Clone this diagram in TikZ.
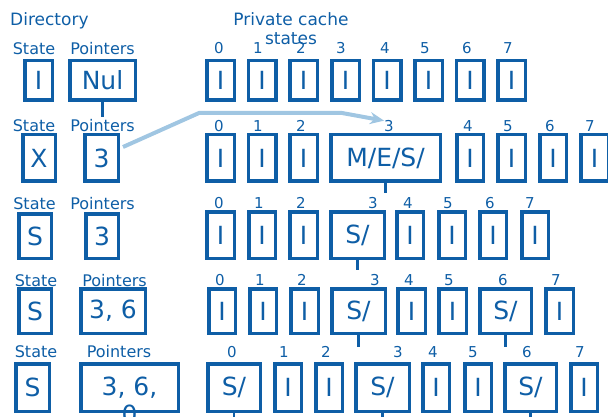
\documentclass[tikz,border=0pt]{standalone}
\usepackage{fontspec}
\setmainfont{DejaVu Sans}
\usetikzlibrary{arrows.meta}
\definecolor{dirblue}{RGB}{14,94,166}
\definecolor{ptrblue}{RGB}{160,198,226}

\tikzset{
  cell/.style={draw=dirblue, line width=3.5pt, inner sep=0pt, text=dirblue, font=\fontsize{25}{29}\selectfont},
  cellsize/.style 2 args={minimum width={#1pt-3.5pt}, minimum height={#2pt-3.5pt}},
  tag/.style={text=dirblue, inner sep=0pt, anchor=base, font=\fontsize{16}{19}\selectfont},
  idx/.style={text=dirblue, inner sep=0pt, anchor=base, font=\fontsize{15}{18}\selectfont},
  stub/.style={draw=dirblue, line width=2.6pt},
  ptr/.style={draw=ptrblue, line width=4pt, -{Stealth[length=14pt,width=12pt]}}
}

\begin{document}
\begin{tikzpicture}[x=1pt, y=-1pt]
  \useasboundingbox (0,0) rectangle (608,417);
  \clip (0,0) rectangle (608,417);

  % headings
  \node[tag, anchor=base west, font=\fontsize{17}{20}\selectfont] (dirhead) at (10,26) {Directory};
  \node[tag, font=\fontsize{17}{20}\selectfont] (cachehead) at (291,26) {Private cache};
  \node[tag, font=\fontsize{17}{20}\selectfont] (cachehead2) at (291,45) {states};

  % row 1: nobody holds the line
  \node[tag] (st1) at (34,55) {State};
  \node[tag] (pt1) at (102.5,55) {Pointers};
  \node[cell, cellsize={31}{43}] (d1s) at (38.5,80.5) {I};
  \node[cell, cellsize={69}{43}] (d1p) at (102.5,80.5) {Nul};
  \foreach \x [count=\i from 0] in {219,258,301,341,385,425,467,508}
    \node[idx] (i1-\i) at (\x,54) {\i};
  \foreach \cx/\w/\s [count=\i from 0] in {220.5/31/I, 262/31/I, 303.5/31/I, 345.5/31/I, 387/31/I, 428.5/31/I, 470/31/I, 511.5/31/I}
    \node[cell, cellsize={\w}{43}] (c1-\i) at (\cx,80.5) {\s};
  \draw[stub] (d1p.south) -- ++(0,15);

  % row 2: one owner
  \node[tag] (st2) at (34,132) {State};
  \node[tag] (pt2) at (102.5,132) {Pointers};
  \node[cell, cellsize={36}{50}] (d2s) at (39,158) {X};
  \node[cell, cellsize={37}{50}] (d2p) at (101.5,158) {3};
  \foreach \x [count=\i from 0] in {219,258,301,389,468,508,550,590}
    \node[idx] (i2-\i) at (\x,132) {\i};
  \foreach \cx/\w/\s [count=\i from 0] in {220.5/31/I, 262/31/I, 303.5/31/I, 385.5/113/{M/E/S/}, 470/30/I, 511.5/31/I, 553/30/I, 594.5/31/I}
    \node[cell, cellsize={\w}{50}] (c2-\i) at (\cx,158) {\s};
  \draw[stub] (c2-3.south) -- ++(0,10);
  \draw[ptr] ([xshift=3pt,yshift=11pt]d2p.east) -- ++(76,-34) -- ++(143,0) -- (i2-3.north west);

  % row 3: one sharer
  \node[tag] (st3) at (34.5,209) {State};
  \node[tag] (pt3) at (102.5,209) {Pointers};
  \node[cell, cellsize={36}{48}] (d3s) at (35,236) {S};
  \node[cell, cellsize={36}{48}] (d3p) at (102,236) {3};
  \foreach \x [count=\i from 0] in {219,259,301,373,408,448,490,530}
    \node[idx] (i3-\i) at (\x,208) {\i};
  \foreach \cx/\w/\s [count=\i from 0] in {220.5/31/I, 262/30/I, 303.5/31/I, 357.5/57/{S/}, 410/30/I, 452/30/I, 493/30/I, 535/30/I}
    \node[cell, cellsize={\w}{50}] (c3-\i) at (\cx,235) {\s};
  \draw[stub] (c3-3.south) -- ++(0,10);

  % row 4: two sharers
  \node[tag] (st4) at (36,286) {State};
  \node[tag] (pt4) at (114.5,286) {Pointers};
  \node[cell, cellsize={36}{48}] (d4s) at (35,311) {S};
  \node[cell, cellsize={68}{48}] (d4p) at (113,311) {3, 6};
  \foreach \x [count=\i from 0] in {220,260,302,375,409,449,503,556}
    \node[idx] (i4-\i) at (\x,285) {\i};
  \foreach \cx/\w/\s [count=\i from 0] in {222/30/I, 263/30/I, 304.5/31/I, 358.5/57/{S/}, 411.5/31/I, 452.5/31/I, 505.5/55/{S/}, 559.5/31/I}
    \node[cell, cellsize={\w}{48}] (c4-\i) at (\cx,311) {\s};
  \draw[stub] (c4-3.south) -- ++(0,12);
  \draw[stub] (c4-6.south) -- ++(0,12);

  % row 5: three sharers
  \node[tag] (st5) at (36,357) {State};
  \node[tag] (pt5) at (119,357) {Pointers};
  \node[cell, cellsize={37}{51}] (d5s) at (32.5,387.5) {S};
  \node[cell, cellsize={101}{51}] (d5p) at (129.5,387.5) {3, 6,};
  \node[text=dirblue, inner sep=0pt, anchor=base, font=\fontsize{25}{29}\selectfont] (d5q) at (129.5,423) {0};
  \foreach \x [count=\i from 0] in {232,284,326,398,433,473,527,580}
    \node[idx] (i5-\i) at (\x,357) {\i};
  \foreach \cx/\w/\s [count=\i from 0] in {234/56/{S/}, 288/30/I, 329/30/I, 382.5/57/{S/}, 436/30/I, 478/30/I, 530.5/55/{S/}, 584/30/I}
    \node[cell, cellsize={\w}{51}] (c5-\i) at (\cx,387.5) {\s};
  \draw[stub] (c5-0.south) -- ++(0,10);
  \draw[stub] (c5-3.south) -- ++(0,10);
  \draw[stub] (c5-6.south) -- ++(0,10);
\end{tikzpicture}
\end{document}
